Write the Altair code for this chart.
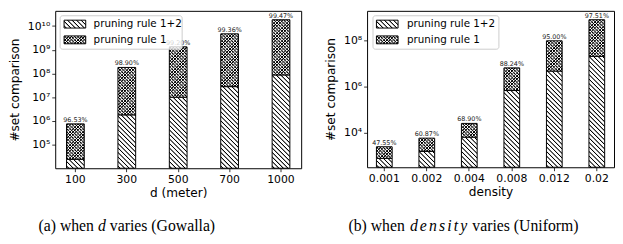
import math
import altair as alt

FONT = "DejaVu Sans"
SERIF = "Liberation Serif"

# ---- data ----
series_names = ["pruning rule 1+2", "pruning rule 1"]

d_labels = ["100", "300", "500", "700", "1000"]
d_rule1 = [7.5e5, 1.8e8, 1.33e9, 4.7e9, 1.85e10]
d_rule12 = [2.4e4, 1.8e6, 1.0e7, 2.8e7, 8.7e7]
d_pct = ["96.53%", "98.90%", "99.20%", "99.36%", "99.47%"]
d_ticks = [1e5, 1e6, 1e7, 1e8, 1e9, 1e10]

den_labels = ["0.001", "0.002", "0.004", "0.008", "0.012", "0.02"]
den_rule1 = [2.4e3, 5.7e3, 2.5e4, 6.6e6, 1.0e8, 8.3e8]
den_rule12 = [7.5e2, 1.5e3, 6.3e3, 6.8e5, 4.8e6, 2.1e7]
den_pct = ["47.55%", "60.87%", "68.90%", "88.24%", "95.00%", "97.51%"]
den_ticks = [1e4, 1e6, 1e8]

CLEAR = "rgba(255,255,255,0)"


def stripes(w, h, kind, gap, lw, bg, fg="black"):
    """Linear gradient (bbox units) that looks like 45 degree hatch lines."""
    w = max(w, 0.5)
    h = max(h, 0.5)
    L = w + h
    k = L / (w * w + h * h)
    if kind == "back":
        x1, y1, x2, y2 = 0, 1, k * w, 1 - k * h
    else:
        x1, y1, x2, y2 = 0, 0, k * w, k * h
    half = lw * math.sqrt(2) / 2
    r = 0.45
    stops = [{"offset": 0, "color": bg}]
    s = gap / 2
    while s - half < L:
        pts = [(s - half - r, bg), (s - half + r, fg), (s + half - r, fg), (s + half + r, bg)]
        for off, col in pts:
            o = min(1.0, max(0.0, off / L))
            stops.append({"offset": round(o, 5), "color": col})
        s += gap
    stops.append({"offset": 1, "color": bg})
    return {"gradient": "linear", "x1": x1, "y1": y1, "x2": x2, "y2": y2, "stops": stops}


GAP_S = 4.6
GAP_X = 3.3
LW = 0.9

SUP = "['⁰','¹','²','³','⁴','⁵','⁶','⁷','⁸','⁹']"
EXP = "round(log(datum.value)/LN10)"
LABEL_EXPR = f"'10' + ({EXP} >= 10 ? '¹⁰' : {SUP}[{EXP}])"

TITLE_FS = 12.3


def panel(labels, r1, r12, pct, ticks, W, H, lo, hi, pi, po, xtitle,
          leg, caption):
    n = len(labels)
    step = W / (n - pi + 2 * po)
    bw = step * (1 - pi)

    def ypix(v):
        return H * (hi - math.log10(v)) / (hi - lo)

    recs = []
    for c, a, b, p in zip(labels, r1, r12, pct):
        h12 = H - ypix(b)
        h1 = ypix(b) - ypix(a)
        recs.append({
            "cat": c, "r1": a, "r12": b, "base": 10 ** lo, "pct": p,
            "gA": stripes(bw, h12, "back", GAP_S, LW, "white"),
            "gB": stripes(bw, h1, "back", GAP_X, LW, "white"),
            "gC": stripes(bw, h1, "fwd", GAP_X, LW, CLEAR),
        })
    data = alt.Data(values=recs)

    x = alt.X("cat:N", sort=labels,
              scale=alt.Scale(paddingInner=pi, paddingOuter=po),
              axis=alt.Axis(title=xtitle, labelAngle=0, labelFont=FONT, labelFontSize=11,
                            labelColor="black", titleFont=FONT, titleFontSize=TITLE_FS,
                            titleFontWeight="normal", titleColor="black", tickSize=3.5,
                            tickColor="black", tickWidth=0.8, domain=False, labelPadding=2,
                            titlePadding=2))

    def yenc(field):
        return alt.Y(field, type="quantitative",
                     scale=alt.Scale(type="log", domain=[10 ** lo, 10 ** hi], nice=False),
                     axis=alt.Axis(title="#set comparison", values=ticks, labelExpr=LABEL_EXPR,
                                   labelFont=FONT, labelFontSize=11, labelColor="black",
                                   titleFont=FONT, titleFontSize=TITLE_FS,
                                   titleFontWeight="normal",
                                   titleColor="black", tickSize=3.5, tickColor="black",
                                   tickWidth=0.8, domain=False, grid=False, labelPadding=2,
                                   titlePadding=6))

    base = alt.Chart(data)
    lower = base.mark_bar(stroke="black", strokeWidth=1).encode(
        x=x, y=yenc("r12"), y2="base:Q", fill=alt.value({"expr": "datum.gA"}))
    upper_b = base.mark_bar(strokeWidth=0).encode(
        x=x, y=yenc("r1"), y2="r12:Q", fill=alt.value({"expr": "datum.gB"}))
    upper_c = base.mark_bar(stroke="black", strokeWidth=1).encode(
        x=x, y=yenc("r1"), y2="r12:Q", fill=alt.value({"expr": "datum.gC"}))
    pct_text = base.mark_text(baseline="bottom", dy=-1.2, fontSize=6.5, font=FONT,
                              color="#222222").encode(x=x, y=yenc("r1"), text="pct:N")

    one = alt.Data(values=[{"k": 1}])
    lx, ly, lw_box, sx, tx = leg
    box = alt.Chart(one).mark_rect(cornerRadius=2.5, fill="white", fillOpacity=0.8,
                                   stroke="#cccccc", strokeWidth=1).encode(
        x=alt.value(lx), x2=alt.value(lx + lw_box), y=alt.value(ly), y2=alt.value(ly + 34))
    sw_w, sw_h = 22, 8
    rows = [ly + 8.5, ly + 24.5]
    sw1 = alt.Chart(one).mark_rect(fill=stripes(sw_w, sw_h, "back", GAP_S, LW, "white"),
                                   stroke="black", strokeWidth=1).encode(
        x=alt.value(sx), x2=alt.value(sx + sw_w), y=alt.value(rows[0] - sw_h / 2),
        y2=alt.value(rows[0] + sw_h / 2))
    sw2a = alt.Chart(one).mark_rect(fill=stripes(sw_w, sw_h, "back", GAP_X, LW, "white"),
                                    strokeWidth=0).encode(
        x=alt.value(sx), x2=alt.value(sx + sw_w), y=alt.value(rows[1] - sw_h / 2),
        y2=alt.value(rows[1] + sw_h / 2))
    sw2b = alt.Chart(one).mark_rect(fill=stripes(sw_w, sw_h, "fwd", GAP_X, LW, CLEAR),
                                    stroke="black", strokeWidth=1).encode(
        x=alt.value(sx), x2=alt.value(sx + sw_w), y=alt.value(rows[1] - sw_h / 2),
        y2=alt.value(rows[1] + sw_h / 2))
    t1 = alt.Chart(one).mark_text(text=series_names[0], align="left", baseline="middle",
                                  font=FONT, fontSize=10.5, color="black").encode(
        x=alt.value(tx), y=alt.value(rows[0]))
    t2 = alt.Chart(one).mark_text(text=series_names[1], align="left", baseline="middle",
                                  font=FONT, fontSize=10.5, color="black").encode(
        x=alt.value(tx), y=alt.value(rows[1]))

    cap_layers = []
    for txt, cx, style in caption:
        cap_layers.append(alt.Chart(one).mark_text(
            text=txt, align="left", baseline="middle", font=SERIF, fontSize=16,
            fontStyle=style, color="black").encode(x=alt.value(cx), y=alt.value(219)))

    return alt.layer(lower, upper_b, upper_c, pct_text, box, sw1, sw2a, sw2b, t1, t2,
                     *cap_layers).properties(width=W, height=H)


left = panel(d_labels, d_rule1, d_rule12, d_pct, d_ticks,
             W=250, H=160, lo=4.004, hi=10.643, pi=0.655, po=0.22, xtitle="d (meter)",
             leg=(5, 5, 124, 9, 39),
             caption=[("(a) when", -17, "normal"), ("d", 43.5, "italic"),
                      ("varies (Gowalla)", 55.5, "normal")])

dens_letters = [("d", 43.5), ("e", 53.6), ("n", 62.9), ("s", 73.1),
                ("i", 81.5), ("t", 88.1), ("y", 94.7)]
right = panel(den_labels, den_rule1, den_rule12, den_pct, den_ticks,
              W=251, H=159, lo=2.486, hi=9.307, pi=0.63, po=0.22, xtitle="density",
              leg=(6, 5, 128, 9.5, 40.5),
              caption=[("(b) when", -19, "normal")]
              + [(ch, cx, "italic") for ch, cx in dens_letters]
              + [("varies (Uniform)", 107, "normal")])

chart = alt.hconcat(left, right, spacing=67, bounds="flush").properties(
    padding={"left": 0, "top": 0, "right": 0, "bottom": 0}
).configure_view(stroke="black", strokeWidth=1)

chart.save("out.html", embed_options={"renderer": "svg", "actions": False})
